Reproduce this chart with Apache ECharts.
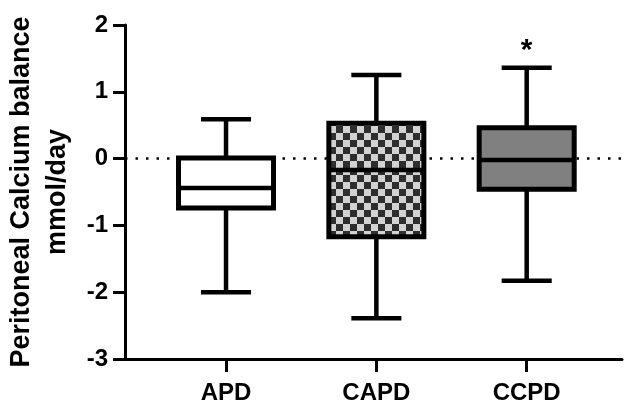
<!DOCTYPE html>
<html>
<head>
<meta charset="utf-8">
<script src="https://cdn.jsdelivr.net/npm/echarts@6/dist/echarts.min.js"></script>
<style>html,body{margin:0;padding:0;background:#fff;}#c{width:626px;height:404px;}</style>
</head>
<body>
<div id="c"></div>
<script>
// Data
const categories = ['APD', 'CAPD', 'CCPD'];
const whiskerMin = [-2.00, -2.39, -1.83];
const q1 = [-0.74, -1.17, -0.46];
const median = [-0.44, -0.17, -0.02];
const q3 = [0.01, 0.53, 0.46];
const whiskerMax = [0.59, 1.25, 1.36];
const significance = ['', '', '*'];
const yTicks = [-3, -2, -1, 0, 1, 2];

const FONT = 'Liberation Sans, Arial, sans-serif';

// checkerboard pattern for CAPD
const pc = document.createElement('canvas');
pc.width = 14; pc.height = 14;
const pctx = pc.getContext('2d');
pctx.fillStyle = '#d2d2d2'; pctx.fillRect(0, 0, 14, 14);
pctx.fillStyle = '#2e2e2e'; pctx.fillRect(0, 0, 7, 7); pctx.fillRect(7, 7, 7, 7);
const fills = ['#ffffff', {image: pc, repeat: 'repeat'}, '#808080'];

const boxData = categories.map((c, i) => [i + 1, whiskerMin[i], q1[i], median[i], q3[i], whiskerMax[i], i]);

const chart = echarts.init(document.getElementById('c'), null, {renderer: 'canvas'});
chart.setOption({
  animation: false,
  grid: {left: 125, right: 4, top: 25, bottom: 45, containLabel: false, outerBoundsMode: 'none'},
  xAxis: {
    type: 'value', min: 0.328, max: 3.634,
    splitLine: {show: false},
    axisLine: {show: true, onZero: false, lineStyle: {color: '#000', width: 3}},
    axisTick: {show: true, customValues: [1, 2, 3], length: 13, lineStyle: {color: '#000', width: 3}},
    axisLabel: {show: true, customValues: [1, 2, 3], margin: 22,
      formatter: v => categories[Math.round(v) - 1] || '',
      color: '#000', fontSize: 24, fontWeight: 'bold', fontFamily: FONT}
  },
  yAxis: {
    type: 'value', min: -3, max: 2, interval: 1,
    splitLine: {show: false},
    axisLine: {show: true, lineStyle: {color: '#000', width: 3}},
    axisTick: {show: true, length: 12, lineStyle: {color: '#000', width: 3}},
    axisLabel: {color: '#000', fontSize: 24, fontWeight: 'bold', fontFamily: FONT, margin: 17},
    name: 'Peritoneal Calcium balance\nmmol/day',
    nameLocation: 'middle', nameRotate: 90, nameGap: 47,
    nameTextStyle: {color: '#000', fontSize: 27, fontWeight: 'bold', fontFamily: FONT, lineHeight: 36, align: 'center'}
  },
  series: [
    {
      type: 'line', z: 1, silent: true, symbol: 'none',
      data: [[0.328, 0], [3.634, 0]],
      lineStyle: {color: '#000', width: 2.5, type: [2.5, 8]}
    },
    {
      type: 'custom', z: 5,
      data: boxData,
      renderItem: function (params, api) {
        const x = api.value(0);
        const idx = api.value(6);
        const pMin = api.coord([x, api.value(1)]);
        const pQ1 = api.coord([x, api.value(2)]);
        const pMed = api.coord([x, api.value(3)]);
        const pQ3 = api.coord([x, api.value(4)]);
        const pMax = api.coord([x, api.value(5)]);
        const boxHalf = api.size([0.632, 0])[0] / 2;
        const capHalf = api.size([0.333, 0])[0] / 2;
        const cx = pMed[0];
        const ls = {stroke: '#000', lineWidth: 4.5};
        const children = [
          {type: 'line', shape: {x1: cx, y1: pMax[1], x2: cx, y2: pQ3[1]}, style: ls},
          {type: 'line', shape: {x1: cx, y1: pQ1[1], x2: cx, y2: pMin[1]}, style: ls},
          {type: 'line', shape: {x1: cx - capHalf, y1: pMax[1], x2: cx + capHalf, y2: pMax[1]}, style: ls},
          {type: 'line', shape: {x1: cx - capHalf, y1: pMin[1], x2: cx + capHalf, y2: pMin[1]}, style: ls},
          {type: 'rect', shape: {x: cx - boxHalf, y: pQ3[1], width: boxHalf * 2, height: pQ1[1] - pQ3[1]},
            style: {fill: fills[idx], stroke: '#000', lineWidth: 5}},
          {type: 'line', shape: {x1: cx - boxHalf, y1: pMed[1], x2: cx + boxHalf, y2: pMed[1]}, style: {stroke: '#000', lineWidth: 4.5}}
        ];
        const sig = significance[idx];
        if (sig) {
          children.push({type: 'text', style: {text: sig, x: cx, y: pMax[1] - 2, align: 'center', verticalAlign: 'bottom',
            fill: '#000', fontSize: 30, fontWeight: 'bold', fontFamily: FONT}});
        }
        return {type: 'group', children: children};
      }
    }
  ]
});
</script>
</body>
</html>
